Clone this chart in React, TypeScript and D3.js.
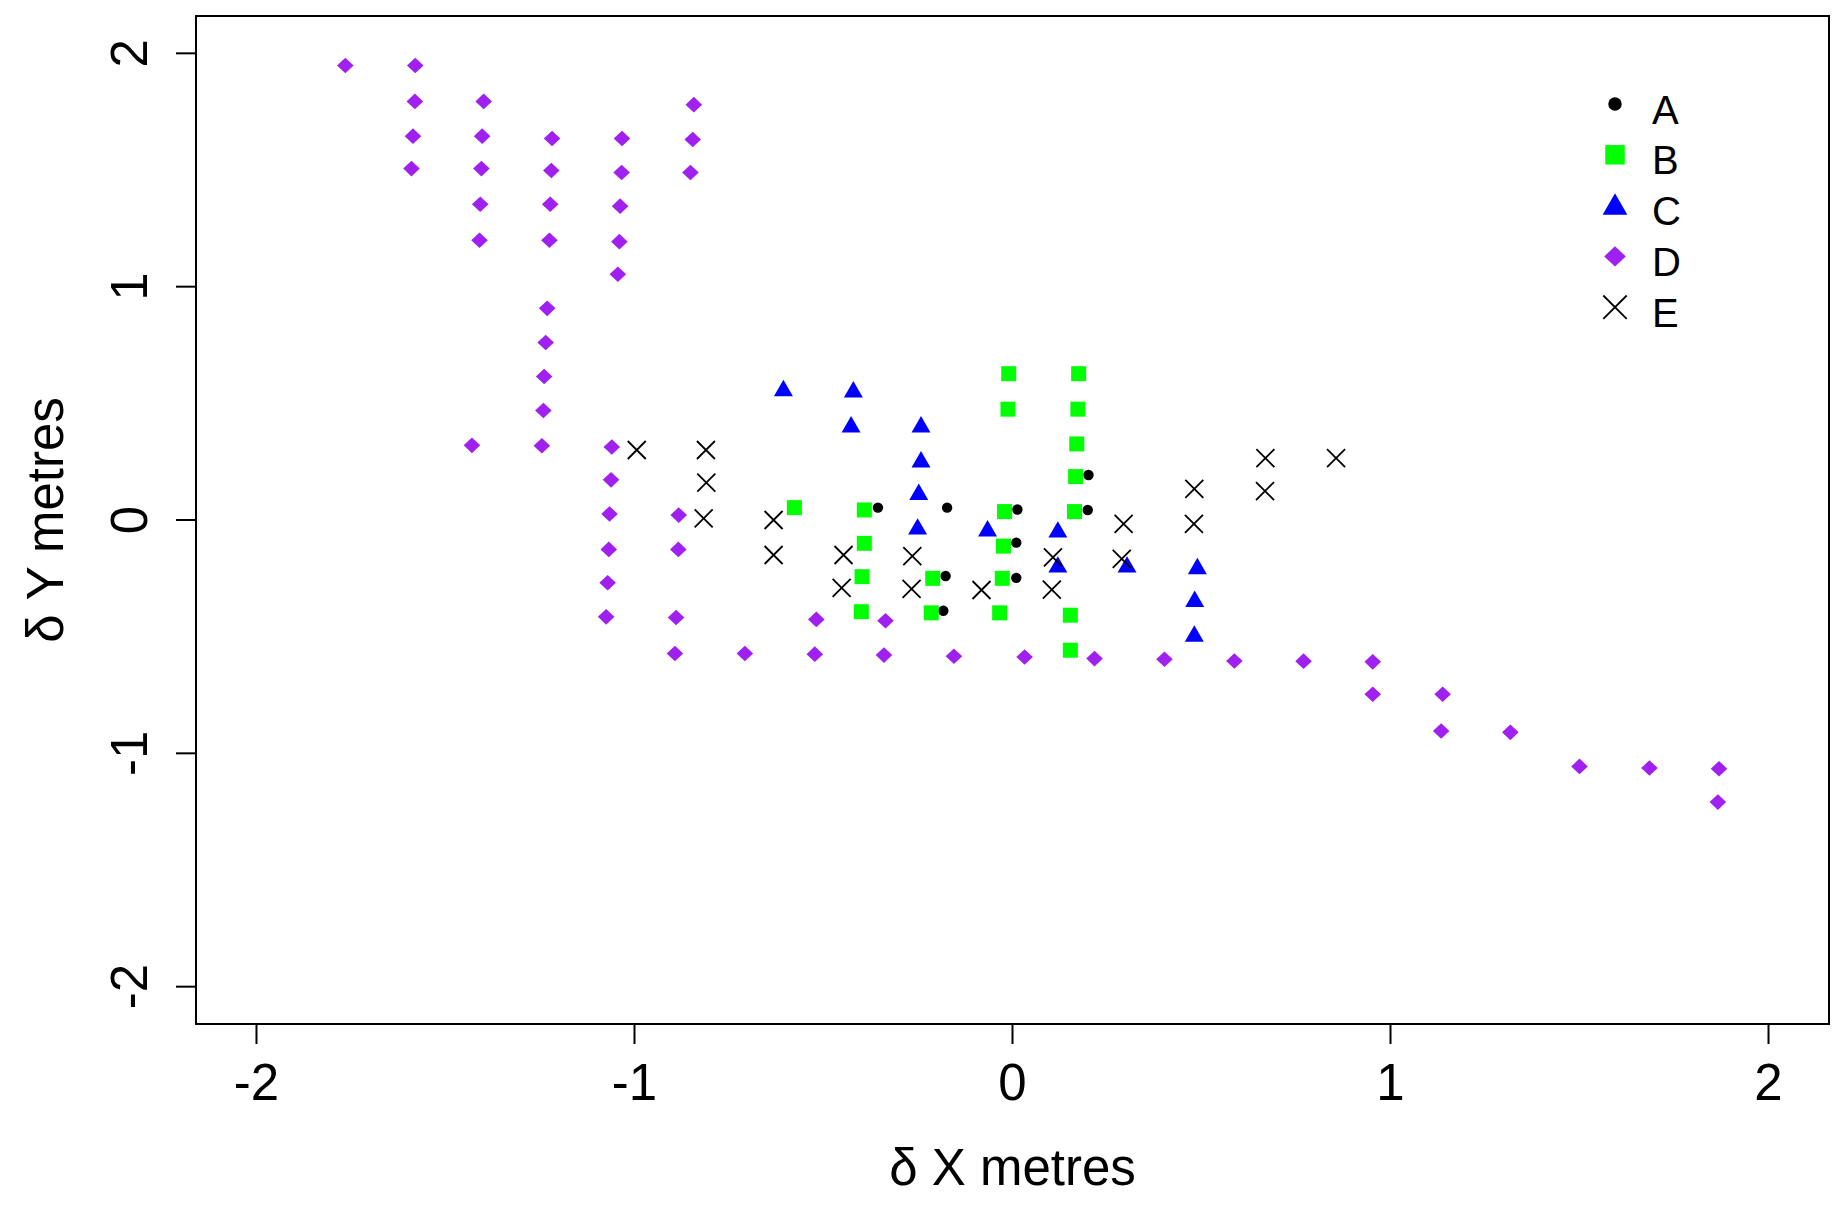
import React from "react";
import * as d3 from "d3";

// ---- data ----
const seriesNames = ["A", "B", "C", "D", "E"];
const seriesColors = ["#000000", "#00ff00", "#0000ff", "#a020f0", "#000000"];

const dataA: [number, number][] = [
  [-0.356, 0.053], [-0.173, 0.053], [0.013, 0.045], [0.010, -0.097],
  [-0.177, -0.240], [0.010, -0.248], [-0.183, -0.389], [0.201, 0.193], [0.199, 0.043],
];

const dataB: [number, number][] = [
  [-0.010, 0.627], [-0.012, 0.475], [-0.577, 0.053], [-0.392, 0.043], [-0.021, 0.036],
  [-0.392, -0.100], [-0.024, -0.112], [-0.398, -0.243], [-0.211, -0.250], [-0.027, -0.250],
  [-0.400, -0.393], [-0.215, -0.398], [-0.034, -0.398], [0.175, 0.627], [0.173, 0.475],
  [0.170, 0.326], [0.167, 0.186], [0.164, 0.036], [0.153, -0.408], [0.153, -0.558],
];

const dataC: [number, number][] = [
  [-0.606, 0.554], [-0.421, 0.549], [-0.427, 0.399], [-0.242, 0.399], [-0.242, 0.249],
  [-0.248, 0.109], [-0.251, -0.039], [-0.066, -0.047], [0.120, -0.052], [0.120, -0.202],
  [0.303, -0.202], [0.489, -0.209], [0.482, -0.349], [0.481, -0.498],
];

const dataD: [number, number][] = [
  [-1.765, 1.948], [-1.580, 1.948],
  [-1.581, 1.794], [-1.399, 1.794], [-0.843, 1.780],
  [-1.586, 1.645], [-1.403, 1.645], [-1.218, 1.635], [-1.033, 1.635], [-0.846, 1.631],
  [-1.590, 1.506], [-1.405, 1.506], [-1.220, 1.498], [-1.034, 1.489], [-0.852, 1.489],
  [-1.408, 1.353], [-1.223, 1.353], [-1.038, 1.345],
  [-1.410, 1.199], [-1.225, 1.199], [-1.040, 1.193],
  [-1.044, 1.053],
  [-1.231, 0.907], [-1.235, 0.761], [-1.239, 0.615], [-1.241, 0.469], [-1.245, 0.318],
  [-1.430, 0.320], [-1.060, 0.313],
  [-1.062, 0.172], [-1.066, 0.026], [-0.883, 0.021], [-1.068, -0.126], [-0.884, -0.126],
  [-1.071, -0.269], [-1.075, -0.415], [-0.890, -0.418], [-0.519, -0.426], [-0.336, -0.432],
  [-0.893, -0.572], [-0.708, -0.572], [-0.523, -0.575], [-0.340, -0.579], [-0.155, -0.584],
  [0.032, -0.587], [0.217, -0.594], [0.402, -0.597], [0.587, -0.604], [0.770, -0.605],
  [0.953, -0.608], [0.953, -0.747], [1.138, -0.747], [1.134, -0.904], [1.317, -0.910],
  [1.500, -1.056], [1.685, -1.063], [1.869, -1.066], [1.866, -1.209],
];

const dataE: [number, number][] = [
  [-0.994, 0.300], [-0.811, 0.300], [-0.810, 0.160], [-0.817, 0.007], [-0.632, 0.000],
  [-0.632, -0.150], [-0.447, -0.150], [-0.452, -0.291], [-0.265, -0.155], [-0.267, -0.295],
  [-0.082, -0.300], [0.107, -0.160], [0.104, -0.298], [0.294, -0.017], [0.289, -0.167],
  [0.481, 0.133], [0.480, -0.017], [0.669, 0.265], [0.668, 0.124], [0.856, 0.265],
];

const xTicks = [-2, -1, 0, 1, 2];
const yTicks = [-2, -1, 0, 1, 2];
const xTitle = "δ X metres";
const yTitle = "δ Y metres";

const W = 1843;
const H = 1217;
const FONT = "'Liberation Sans', Arial, Helvetica, sans-serif";

function Marker({ kind, x, y, s, color }: { kind: string; x: number; y: number; s: number; color: string }) {
  // s = scale factor (1 for plot, ~1.3 for legend)
  if (kind === "A") return <circle cx={x} cy={y} r={5.2 * s} fill={color} />;
  if (kind === "B") {
    const h = 7.5 * s;
    return <rect x={x - h} y={y - h} width={2 * h} height={2 * h} fill={color} />;
  }
  if (kind === "C") {
    const u = 7.05 * s;
    const r = 1.555 * u, xc = 1.347 * u, yc = 0.778 * u;
    return <path d={`M${x},${y - r}L${x + xc},${y + yc}L${x - xc},${y + yc}Z`} fill={color} />;
  }
  if (kind === "D") {
    const hw = 8.3 * s, hh = 7.8 * s;
    return <path d={`M${x},${y - hh}L${x + hw},${y}L${x},${y + hh}L${x - hw},${y}Z`} fill={color} />;
  }
  const c = 9 * s;
  return (
    <path d={`M${x - c},${y - c}L${x + c},${y + c}M${x - c},${y + c}L${x + c},${y - c}`}
      stroke={color} strokeWidth={1.8} fill="none" />
  );
}

export default function App() {
  const x = d3.scaleLinear().domain([-2.16, 2.16]).range([196, 1829]);
  const y = d3.scaleLinear().domain([-2.16, 2.16]).range([1024, 16]);
  const allSeries = [dataA, dataB, dataC, dataD, dataE];
  const [x0, x1] = x.range();
  const [y0, y1] = y.range();

  return (
    <svg width={W} height={H} style={{ position: "absolute", left: 0, top: 0, background: "#fff" }}
      fontFamily={FONT}>
      <rect x={0} y={0} width={W} height={H} fill="#fff" />
      {allSeries.map((data, si) => (
        <g key={si}>
          {data.map((d, i) => (
            <Marker key={i} kind={seriesNames[si]} x={x(d[0])} y={y(d[1])} s={1} color={seriesColors[si]} />
          ))}
        </g>
      ))}
      <rect x={x0} y={y1} width={x1 - x0} height={y0 - y1} fill="none" stroke="#000" strokeWidth={2} />
      {xTicks.map((t) => (
        <g key={t}>
          <line x1={x(t)} x2={x(t)} y1={y0} y2={y0 + 20} stroke="#000" strokeWidth={2} />
          <text x={x(t)} y={1100} textAnchor="middle" fontSize={51} fill="#000">{t}</text>
        </g>
      ))}
      {yTicks.map((t) => (
        <g key={t}>
          <line x1={x0} x2={x0 - 20} y1={y(t)} y2={y(t)} stroke="#000" strokeWidth={2} />
          <text transform={`translate(147,${y(t)}) rotate(-90)`} textAnchor="middle" fontSize={51} fill="#000">{t}</text>
        </g>
      ))}
      <text x={(x0 + x1) / 2} y={1185} textAnchor="middle" fontSize={51} fill="#000">{xTitle}</text>
      <text transform={`translate(63,${(y0 + y1) / 2}) rotate(-90)`} textAnchor="middle" fontSize={51} fill="#000">{yTitle}</text>
      <g>
        {seriesNames.map((n, i) => {
          const cy = 104 + i * 50.8;
          return (
            <g key={n}>
              <Marker kind={n} x={1615} y={n === "C" ? cy + 2 : cy} s={1.3} color={seriesColors[i]} />
              <text x={1652} y={cy + 19.5} fontSize={40} fill="#000">{n}</text>
            </g>
          );
        })}
      </g>
    </svg>
  );
}
